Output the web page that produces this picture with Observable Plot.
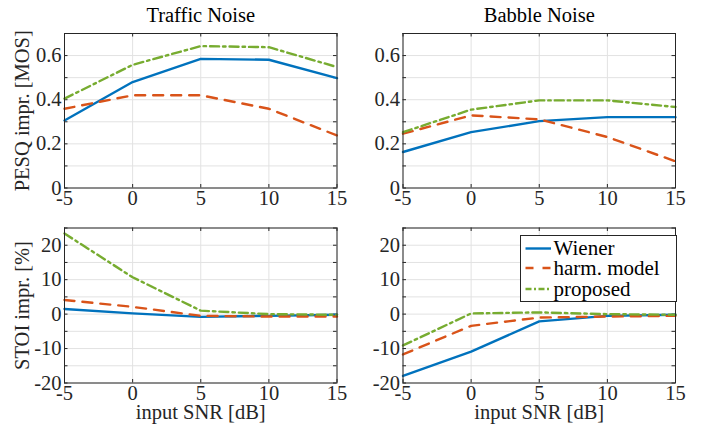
<!DOCTYPE html>
<html>
<head>
<meta charset="utf-8">
<script src="https://cdn.jsdelivr.net/npm/d3@7"></script>
<script src="https://cdn.jsdelivr.net/npm/@observablehq/plot@0.6"></script>
<style>
  html, body { margin: 0; padding: 0; background: white; }
  #wrap { position: relative; width: 702px; height: 425px; overflow: hidden; background: white; }
  #wrap svg { position: absolute; }
  #wrap svg text { font-family: 'Liberation Serif', 'Times New Roman', serif; }
</style>
</head>
<body>
<div id="wrap"></div>
<script>
// ---- data ----
const snr = [-5, 0, 5, 10, 15];
const seriesNames = ["Wiener", "harm. model", "proposed"];
const panelTitles = ["Traffic Noise", "Babble Noise"];
const xTicks = [-5, 0, 5, 10, 15];
const pesqTicks = [0, 0.2, 0.4, 0.6];
const pesqGrid = [0, 0.1, 0.2, 0.3, 0.4, 0.5, 0.6, 0.7];
const stoiTicks = [-20, -10, 0, 10, 20];
const stoiGrid = [-20, -15, -10, -5, 0, 5, 10, 15, 20, 25];

const pesqTrafficWiener = [0.306, 0.48, 0.585, 0.581, 0.498];
const pesqTrafficHarm   = [0.359, 0.42, 0.42, 0.359, 0.238];
const pesqTrafficProp   = [0.405, 0.558, 0.643, 0.638, 0.548];
const pesqBabbleWiener  = [0.163, 0.253, 0.303, 0.321, 0.321];
const pesqBabbleHarm    = [0.246, 0.329, 0.311, 0.231, 0.121];
const pesqBabbleProp    = [0.253, 0.355, 0.397, 0.397, 0.367];
const stoiTrafficWiener = [1.5, 0.2, -0.8, -0.5, -0.2];
const stoiTrafficHarm   = [4.1, 2.1, -0.5, -0.7, -0.7];
const stoiTrafficProp   = [23.4, 10.7, 1.0, 0.0, -0.2];
const stoiBabbleWiener  = [-17.9, -10.9, -2.1, -0.5, -0.2];
const stoiBabbleHarm    = [-11.7, -3.4, -1.0, -0.7, -0.5];
const stoiBabbleProp    = [-9.1, 0.2, 0.5, 0.0, -0.2];

// ---- styles ----
const colors = ["#0072BD", "#D95319", "#77AC30"];
const dashes = [null, "10,8", "9,4,2.5,4"];
const FONT = "'Liberation Serif', 'Times New Roman', serif";
const FS = 20.5;
const INK = "#262626";
const GRID = "#e2e2e2";
const LW = 2.4;

function toRows(values) { return snr.map((x, i) => ({x, y: values[i]})); }

function panel(cfg) {
  const innerW = cfg.width - cfg.mL - cfg.mR;
  const innerH = cfg.height - cfg.mT - cfg.mB;
  const TL = 3.5;
  const marks = [
    Plot.gridX(xTicks, {stroke: GRID, strokeOpacity: 1}),
    Plot.gridY(cfg.grid, {stroke: GRID, strokeOpacity: 1}),
    // inward box ticks (MATLAB style)
    Plot.tickY(cfg.grid, {y: d => d, stroke: INK, insetRight: innerW - TL}),
    Plot.tickY(cfg.grid, {y: d => d, stroke: INK, insetLeft: innerW - TL}),
    Plot.tickX(xTicks, {x: d => d, stroke: INK, insetTop: innerH - TL}),
    Plot.tickX(xTicks, {x: d => d, stroke: INK, insetBottom: innerH - TL}),
    ...cfg.series.map((vals, i) => Plot.line(toRows(vals), {
      x: "x", y: "y", stroke: colors[i], strokeWidth: LW,
      strokeDasharray: dashes[i] || undefined
    })),
    Plot.frame({stroke: INK}),
    Plot.axisX(xTicks, {
      tickSize: 0, tickPadding: 2.5, tickFormat: d => String(d),
      fontFamily: FONT, fontSize: FS, fill: INK,
      label: cfg.xlabel || null, labelAnchor: "center", labelOffset: 36, labelArrow: "none"
    }),
    Plot.axisY(cfg.ticks, {
      tickSize: 0, tickPadding: 3, tickFormat: d => String(d),
      fontFamily: FONT, fontSize: FS, fill: INK,
      label: cfg.ylabel || null, labelAnchor: "center", labelOffset: 50, labelArrow: "none"
    })
  ];
  if (cfg.title) {
    marks.push(Plot.text([cfg.title], {
      frameAnchor: "top", dy: -18, lineAnchor: "middle", text: d => d, fill: "black",
      fontFamily: FONT, fontSize: FS
    }));
  }
  const svg = Plot.plot({
    width: cfg.width, height: cfg.height,
    marginLeft: cfg.mL, marginRight: cfg.mR, marginTop: cfg.mT, marginBottom: cfg.mB,
    x: {domain: [-5, 15]},
    y: {domain: cfg.domain},
    style: {fontFamily: FONT, fontSize: FS + "px", color: INK, background: "transparent", overflow: "visible"},
    marks
  });
  svg.style.left = cfg.left + "px";
  svg.style.top = cfg.top + "px";
  return svg;
}

const wrap = document.getElementById("wrap");
wrap.appendChild(panel({
  left: 0, top: 0, width: 351, height: 212, mL: 64, mR: 14.5, mT: 33, mB: 24.5,
  domain: [0, 0.7], ticks: pesqTicks, grid: pesqGrid,
  ylabel: "PESQ impr. [MOS]", title: panelTitles[0],
  series: [pesqTrafficWiener, pesqTrafficHarm, pesqTrafficProp]
}));
wrap.appendChild(panel({
  left: 351, top: 0, width: 351, height: 212, mL: 51.5, mR: 27, mT: 33, mB: 24.5,
  domain: [0, 0.7], ticks: pesqTicks, grid: pesqGrid,
  title: panelTitles[1],
  series: [pesqBabbleWiener, pesqBabbleHarm, pesqBabbleProp]
}));
wrap.appendChild(panel({
  left: 0, top: 212, width: 351, height: 213, mL: 64, mR: 14.5, mT: 15.5, mB: 42.5,
  domain: [-20, 25], ticks: stoiTicks, grid: stoiGrid,
  ylabel: "STOI impr. [%]", xlabel: "input SNR [dB]",
  series: [stoiTrafficWiener, stoiTrafficHarm, stoiTrafficProp]
}));
wrap.appendChild(panel({
  left: 351, top: 212, width: 351, height: 213, mL: 51.5, mR: 27, mT: 15.5, mB: 42.5,
  domain: [-20, 25], ticks: stoiTicks, grid: stoiGrid,
  xlabel: "input SNR [dB]",
  series: [stoiBabbleWiener, stoiBabbleHarm, stoiBabbleProp]
}));

// ---- legend (SVG overlay) ----
const ns = "http://www.w3.org/2000/svg";
const leg = document.createElementNS(ns, "svg");
leg.setAttribute("width", 157);
leg.setAttribute("height", 67);
leg.style.left = "519.5px";
leg.style.top = "234.5px";
const box = document.createElementNS(ns, "rect");
box.setAttribute("x", 0.5); box.setAttribute("y", 0.5);
box.setAttribute("width", 156); box.setAttribute("height", 66);
box.setAttribute("fill", "white"); box.setAttribute("stroke", INK);
leg.appendChild(box);
const rowY = [13.5, 33, 54];
seriesNames.forEach((name, i) => {
  const ln = document.createElementNS(ns, "line");
  ln.setAttribute("x1", 5.5); ln.setAttribute("x2", 31);
  ln.setAttribute("y1", rowY[i]); ln.setAttribute("y2", rowY[i]);
  ln.setAttribute("stroke", colors[i]); ln.setAttribute("stroke-width", LW);
  if (dashes[i]) ln.setAttribute("stroke-dasharray", i === 1 ? "8,9" : "6,2.5,2,2.5");
  leg.appendChild(ln);
  const t = document.createElementNS(ns, "text");
  t.setAttribute("x", 33.5); t.setAttribute("y", rowY[i] + 6.8);
  t.setAttribute("font-size", "21px"); t.setAttribute("fill", "black");
  t.setAttribute("font-family", FONT);
  t.textContent = name;
  leg.appendChild(t);
});
wrap.appendChild(leg);
</script>
</body>
</html>
